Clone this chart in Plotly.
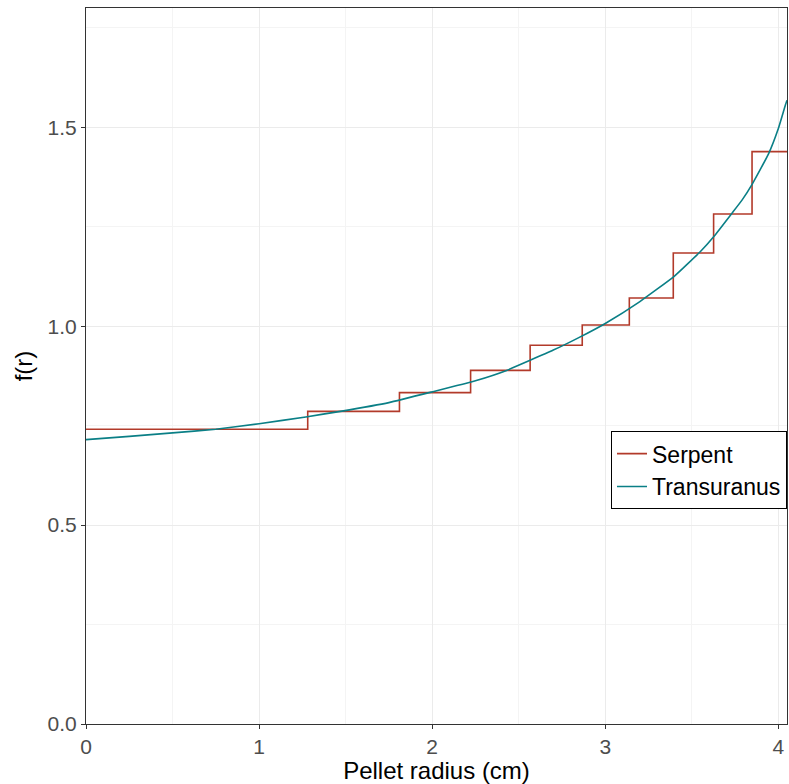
import plotly.graph_objects as go

# Serpent step function (ring edges and values)
serpent_r = [0.0, 1.281, 1.811, 2.222, 2.566, 2.867, 3.139, 3.393, 3.626, 3.848, 4.05]
serpent_f = [0.741, 0.786, 0.833, 0.889, 0.952, 1.003, 1.071, 1.184, 1.282, 1.439, 1.439]

# Transuranus radial profile
tu_r = [0.0, 0.25, 0.5, 0.75, 1.0, 1.27, 1.47, 1.75, 2.0, 2.25, 2.43, 2.7, 2.85, 3.0,
        3.2, 3.4, 3.55, 3.63, 3.73, 3.79, 3.85, 3.944, 4.0, 4.04, 4.05]
tu_f = [0.715, 0.723, 0.732, 0.741, 0.755, 0.772, 0.786, 0.808, 0.835, 0.863, 0.889, 0.940, 0.972, 1.007,
        1.062, 1.126, 1.188, 1.227, 1.283, 1.317, 1.358, 1.434, 1.497, 1.555, 1.568]

fig = go.Figure()
fig.add_trace(go.Scatter(x=serpent_r, y=serpent_f, mode="lines", name="Serpent",
                         line=dict(color="#B23A2A", width=1.6, shape="hv")))
fig.add_trace(go.Scatter(x=tu_r, y=tu_f, mode="lines", name="Transuranus",
                         line=dict(color="#0A7F86", width=1.6, shape="spline", smoothing=0.4)))

axis_common = dict(showline=True, linecolor="#333333", linewidth=1.2, mirror=True,
                   ticks="outside", ticklen=4, tickcolor="#333333", tickwidth=1,
                   gridcolor="#ebebeb", gridwidth=1, zeroline=False,
                   tickfont=dict(size=21, color="#4d4d4d"))

fig.update_layout(
    width=789, height=784,
    margin=dict(l=86, r=2, t=8, b=60),
    paper_bgcolor="white", plot_bgcolor="white",
    font=dict(family="Liberation Sans, Arial, sans-serif", color="black"),
    showlegend=True,
    legend=dict(x=1.0, y=0.409, xanchor="right", yanchor="top",
                bordercolor="black", borderwidth=1, bgcolor="white",
                font=dict(size=23, color="black"), tracegroupgap=0),
    xaxis=dict(range=[0, 4.05], tickvals=[0, 1, 2, 3, 4], ticktext=["0", "1", "2", "3", "4"],
               minor=dict(dtick=0.5, tick0=0, showgrid=True, gridcolor="#f4f4f4", ticks=""),
               title=dict(text="Pellet radius (cm)", font=dict(size=24), standoff=0),
               **axis_common),
    yaxis=dict(range=[0, 1.8], tickvals=[0, 0.5, 1.0, 1.5], ticktext=["0.0", "0.5", "1.0", "1.5"],
               minor=dict(dtick=0.25, tick0=0, showgrid=True, gridcolor="#f4f4f4", ticks=""),
               title=dict(text="f(r)", font=dict(size=24), standoff=8),
               **axis_common),
)

fig.write_html("out.html")
